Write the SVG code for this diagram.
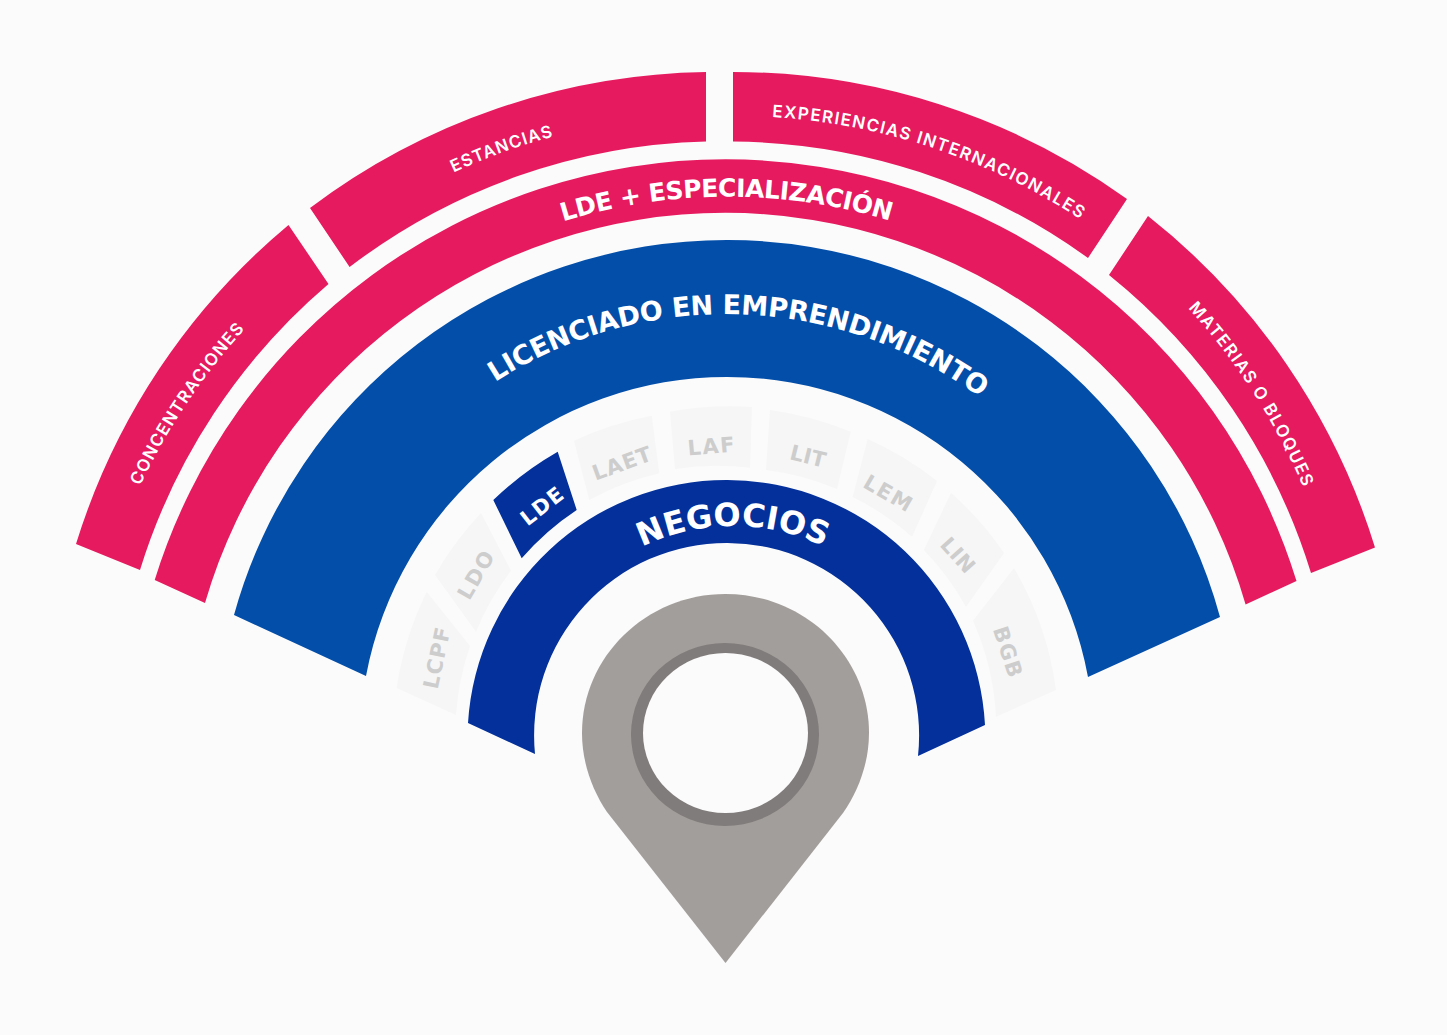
<svg xmlns="http://www.w3.org/2000/svg" width="1447" height="1035" viewBox="0 0 1447 1035">
<style>
.pink{fill:#E51A5F}.blue{fill:#034EA9}.navy{fill:#03309A}.tile{fill:#F6F6F6}
text{font-family:"DejaVu Sans","Liberation Sans",sans-serif;fill:#FFFFFF}
.lg{font-weight:700}.sm{font-family:"Inter","Liberation Sans",sans-serif;font-size:17px;font-weight:600}
.t{font-size:21px;font-weight:700;text-anchor:middle;fill:#CDCDCD}
.t.on{fill:#FFFFFF}
</style>
<defs>
<path id="pConc" d="M140 486A634 634 0 0 1 245 329"/>
<path id="pEst" d="M453.5 172.5A633 633 0 0 1 553 136.5"/>
<path id="pExp" d="M772 117A632 632 0 0 1 1083 221"/>
<path id="pMat" d="M1188 308A634 634 0 0 1 1304 489"/>
<path id="pEsp" d="M563 221.5A558 558 0 0 1 891 221"/>
<path id="pLic" d="M495 382A428 428 0 0 1 979.5 397"/>
<path id="pNeg" d="M642 547A210 210 0 0 1 825 547"/>
</defs>
<rect width="1447" height="1035" fill="#FBFBFB"/>
<g id="concentraciones">
<path class="pink" d="M76 544A675 675 0 0 1 288.5 225L328.5 284A613 613 0 0 0 140 570Z"/>
<text class="sm"><textPath href="#pConc" textLength="189" lengthAdjust="spacing">CONCENTRACIONES</textPath></text>
</g>
<g id="estancias">
<path class="pink" d="M310 208A675 675 0 0 1 706 72V141.5A613 613 0 0 0 349.6 267Z"/>
<text class="sm"><textPath href="#pEst" textLength="106" lengthAdjust="spacing">ESTANCIAS</textPath></text>
</g>
<g id="experiencias">
<path class="pink" d="M733 72A675 675 0 0 1 1127 199L1088 258A613 613 0 0 0 733 141.5Z"/>
<text class="sm"><textPath href="#pExp" textLength="328" lengthAdjust="spacing">EXPERIENCIAS INTERNACIONALES</textPath></text>
</g>
<g id="materias">
<path class="pink" d="M1148 216A675 675 0 0 1 1375 547.5L1311 573A613 613 0 0 0 1109 275Z"/>
<text class="sm"><textPath href="#pMat" textLength="214" lengthAdjust="spacing">MATERIAS O BLOQUES</textPath></text>
</g>
<g id="especializacion">
<path class="pink" d="M154.7 580A597.5 597.5 0 0 1 1296.5 581L1245.6 604.6A541.7 541.7 0 0 0 205 603Z"/>
<text class="lg" font-size="25"><textPath href="#pEsp" textLength="332" lengthAdjust="spacing">LDE + ESPECIALIZACIÓN</textPath></text>
</g>
<g id="licenciado">
<path class="blue" d="M234 615A511.2 511.2 0 0 1 1220 617L1088 677A367.3 367.3 0 0 0 366 676Z"/>
<text class="lg" font-size="27"><textPath href="#pLic" textLength="516" lengthAdjust="spacing">LICENCIADO EN EMPRENDIMIENTO</textPath></text>
</g>
<g id="negocios">
<path class="navy" d="M468 723A258.93 258.93 0 0 1 985 725L918 756A192.5 192.5 0 1 0 535 754Z"/>
<text class="lg" font-size="32"><textPath href="#pNeg" textLength="188" lengthAdjust="spacing">NEGOCIOS</textPath></text>
</g>
<g id="tile-lcpf">
<path class="tile" d="M396.7 688A327 327 0 0 1 426.7 592L470 646A270 270 0 0 0 456 715Z"/>
<text class="t" textLength="62" transform="translate(436.7 658) rotate(-78)" y="7.5">LCPF</text>
</g>
<g id="tile-ldo">
<path class="tile" d="M435 575A327 327 0 0 1 481 513L511 570.7A270 270 0 0 0 476 631.7Z"/>
<text class="t" textLength="52" transform="translate(475.7 575) rotate(-60)" y="7.5">LDO</text>
</g>
<g id="tile-lde">
<path class="navy" d="M493.3 500A329 329 0 0 1 557.7 451.7L576.7 510A270 270 0 0 0 521.7 558.3Z"/>
<text class="t on" textLength="48" transform="translate(541.7 506) rotate(-38)" y="7.5">LDE</text>
</g>
<g id="tile-laet">
<path class="tile" d="M574 440.7A327 327 0 0 1 651.7 415.7L659.3 473.3A270 270 0 0 0 589.3 500Z"/>
<text class="t" textLength="61" transform="translate(621.7 463.3) rotate(-20)" y="7.5">LAET</text>
</g>
<g id="tile-laf">
<path class="tile" d="M670 411.7A327 327 0 0 1 752 407L750 467.7A270 270 0 0 0 675 469Z"/>
<text class="t" textLength="47" transform="translate(711 446) rotate(-5)" y="7.5">LAF</text>
</g>
<g id="tile-lit">
<path class="tile" d="M770 410A327 327 0 0 1 850.7 431.7L837 489A270 270 0 0 0 766 470Z"/>
<text class="t" textLength="36" transform="translate(808 456) rotate(14)" y="7.5">LIT</text>
</g>
<g id="tile-lem">
<path class="tile" d="M867.7 439A327 327 0 0 1 937 481L912 536.7A270 270 0 0 0 852.7 497Z"/>
<text class="t" textLength="52" transform="translate(888 493) rotate(30)" y="7.5">LEM</text>
</g>
<g id="tile-lin">
<path class="tile" d="M951 493A327 327 0 0 1 1004 553L966 606.7A270 270 0 0 0 924 550Z"/>
<text class="t" textLength="40" transform="translate(958 555) rotate(48)" y="7.5">LIN</text>
</g>
<g id="tile-bgb">
<path class="tile" d="M1014 568A327 327 0 0 1 1056 690L996 716.7A270 270 0 0 0 973 620.7Z"/>
<text class="t" textLength="52" transform="translate(1008 651.7) rotate(72)" y="7.5">BGB</text>
</g>
<g id="pin">
<path fill="#A29E9B" d="M725.5 963L843 813C859 790 869 762 869 733C869 657 805 594 725.5 594C646 594 582 657 582 733C582 762 592 790 607 812Z"/>
<ellipse cx="725" cy="734.5" rx="94" ry="91.5" fill="#807C7B"/>
<ellipse cx="725.5" cy="733" rx="82.5" ry="80" fill="#FBFBFB"/>
</g>
</svg>
